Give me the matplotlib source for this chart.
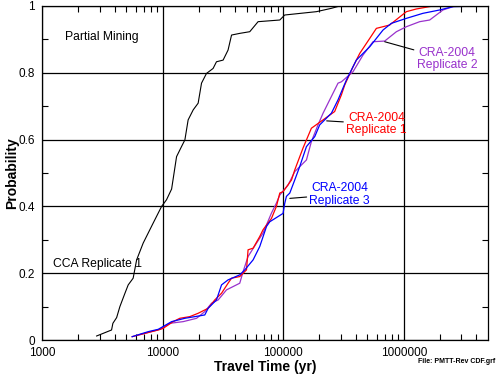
import numpy as np
import matplotlib
matplotlib.use('Agg')
import matplotlib.pyplot as plt
from matplotlib.ticker import FixedLocator, NullFormatter

plt.rcParams['font.family'] = ['Liberation Sans', 'DejaVu Sans']

# log10 travel time (yr) and cumulative probability
cca_logt = [3.453, 3.577, 3.588, 3.619, 3.646, 3.688, 3.715, 3.756, 3.785, 3.839,
            3.922, 3.992, 4.033, 4.075, 4.116, 4.157, 4.185, 4.212, 4.254, 4.295,
            4.323, 4.364, 4.419, 4.447, 4.502, 4.543, 4.572, 4.640, 4.723, 4.792,
            4.972, 5.013, 5.276, 5.400, 5.469]
cca_p = [0.012, 0.03, 0.05, 0.067, 0.10, 0.14, 0.165, 0.185, 0.24, 0.29,
         0.35, 0.40, 0.42, 0.452, 0.549, 0.579, 0.599, 0.659, 0.689, 0.709,
         0.769, 0.798, 0.813, 0.833, 0.838, 0.868, 0.913, 0.918, 0.923, 0.953,
         0.958, 0.973, 0.983, 0.993, 1.0]

rep1_logt = [3.748, 3.964, 4.005, 4.088, 4.143, 4.226, 4.295, 4.378, 4.433, 4.489,
             4.543, 4.572, 4.640, 4.696, 4.709, 4.751, 4.806, 4.833, 4.903, 4.944,
             4.972, 4.999, 5.069, 5.096, 5.165, 5.234, 5.331, 5.427, 5.483, 5.510,
             5.579, 5.635, 5.718, 5.773, 5.883, 5.952, 6.022, 6.104, 6.242]
rep1_p = [0.01, 0.03, 0.035, 0.055, 0.065, 0.07, 0.08, 0.095, 0.12, 0.14,
          0.17, 0.185, 0.19, 0.21, 0.27, 0.275, 0.31, 0.33, 0.364, 0.40,
          0.44, 0.444, 0.479, 0.509, 0.575, 0.634, 0.659, 0.684, 0.734, 0.763,
          0.818, 0.858, 0.903, 0.933, 0.943, 0.963, 0.983, 0.991, 1.0]

rep2_logt = [3.798, 3.978, 4.060, 4.171, 4.282, 4.350, 4.406, 4.461, 4.530, 4.640,
             4.668, 4.709, 4.779, 4.833, 4.903, 4.944, 4.972, 5.041, 5.096, 5.193,
             5.234, 5.289, 5.331, 5.386, 5.455, 5.483, 5.579, 5.662, 5.745, 5.842,
             5.939, 6.022, 6.132, 6.215, 6.325, 6.408]
rep2_p = [0.015, 0.032, 0.05, 0.055, 0.065, 0.085, 0.11, 0.12, 0.15, 0.17,
          0.205, 0.25, 0.29, 0.32, 0.38, 0.41, 0.434, 0.464, 0.504, 0.539,
          0.594, 0.644, 0.679, 0.719, 0.769, 0.773, 0.803, 0.853, 0.893, 0.895,
          0.923, 0.938, 0.953, 0.958, 0.988, 0.998]

rep3_logt = [3.748, 3.881, 3.964, 4.075, 4.185, 4.268, 4.350, 4.378, 4.447, 4.489,
             4.543, 4.640, 4.682, 4.751, 4.806, 4.862, 4.889, 4.999, 5.013, 5.027,
             5.055, 5.096, 5.138, 5.193, 5.262, 5.303, 5.400, 5.455, 5.524, 5.607,
             5.718, 5.828, 5.897, 6.022, 6.159, 6.297, 6.408, 6.629]
rep3_p = [0.01, 0.025, 0.032, 0.055, 0.065, 0.07, 0.075, 0.095, 0.12, 0.165,
          0.18, 0.195, 0.21, 0.24, 0.28, 0.34, 0.354, 0.379, 0.409, 0.43,
          0.44, 0.479, 0.52, 0.579, 0.609, 0.644, 0.679, 0.719, 0.778, 0.838,
          0.878, 0.928, 0.948, 0.963, 0.978, 0.988, 0.998, 1.0]

purple = '#9932cc'

fig = plt.figure(figsize=(4.98, 3.74), dpi=100)
ax = fig.add_axes([0.0843, 0.0909, 0.8957, 0.8931])

ax.plot(10 ** np.array(cca_logt), cca_p, color='black', lw=0.8)
ax.plot(10 ** np.array(rep2_logt), rep2_p, color=purple, lw=0.9)
ax.plot(10 ** np.array(rep1_logt), rep1_p, color='red', lw=0.9)
ax.plot(10 ** np.array(rep3_logt), rep3_p, color='blue', lw=0.9)

ax.set_xscale('log')
ax.set_xlim(1000, 5e6)
ax.set_ylim(0, 1)

ax.xaxis.set_major_locator(FixedLocator([1e3, 1e4, 1e5, 1e6]))
ax.set_xticklabels(['1000', '10000', '100000', '1000000'])
minors = [m * 10 ** d for d in range(3, 7) for m in range(2, 10) if m * 10 ** d < 5e6]
ax.xaxis.set_minor_locator(FixedLocator(minors))
ax.xaxis.set_minor_formatter(NullFormatter())
ax.set_yticks([0, 0.2, 0.4, 0.6, 0.8, 1.0])
ax.set_yticklabels(['0', '0.2', '0.4', '0.6', '0.8', '1'])
ax.set_yticks([0.1, 0.3, 0.5, 0.7, 0.9], minor=True)

ax.tick_params(which='both', direction='in', top=True, right=True, labelsize=8.5,
               colors='black')
ax.tick_params(which='major', length=0, pad=5)
ax.tick_params(which='minor', length=4, width=0.8)
ax.grid(which='major', color='black', lw=0.9)
for s in ax.spines.values():
    s.set_linewidth(0.9)

ax.set_xlabel('Travel Time (yr)', fontsize=10, fontweight='heavy', labelpad=1)
ax.set_ylabel('Probability', fontsize=10, fontweight='heavy')
ax.yaxis.set_label_coords(-0.052, 0.5)

ax.text(1550, 0.908, 'Partial Mining', fontsize=8.7, ha='left', va='center')
ax.text(1227, 0.228, 'CCA Replicate 1', fontsize=8.7, ha='left', va='center')

notes = [('CRA-2004\nReplicate 2', (5.842, 0.893), (6.358, 0.841), purple),
         ('CRA-2004\nReplicate 1', (5.361, 0.656), (5.773, 0.647), 'red'),
         ('CRA-2004\nReplicate 3', (5.055, 0.424), (5.469, 0.436), 'blue')]
for txt, (lx, ly), (tx, ty), col in notes:
    ax.annotate(txt, xy=(10 ** lx, ly), xytext=(10 ** tx, ty), color=col,
                fontsize=8.7, ha='center', va='center', multialignment='center',
                linespacing=1.05,
                arrowprops=dict(arrowstyle='-', color='black', lw=0.8,
                                shrinkA=27, shrinkB=0))

fig.text(0.994, 0.024, 'File: PMTT-Rev CDF.grf', fontsize=5, fontweight='bold',
         ha='right', va='bottom')

fig.savefig('out.png', dpi=100)
